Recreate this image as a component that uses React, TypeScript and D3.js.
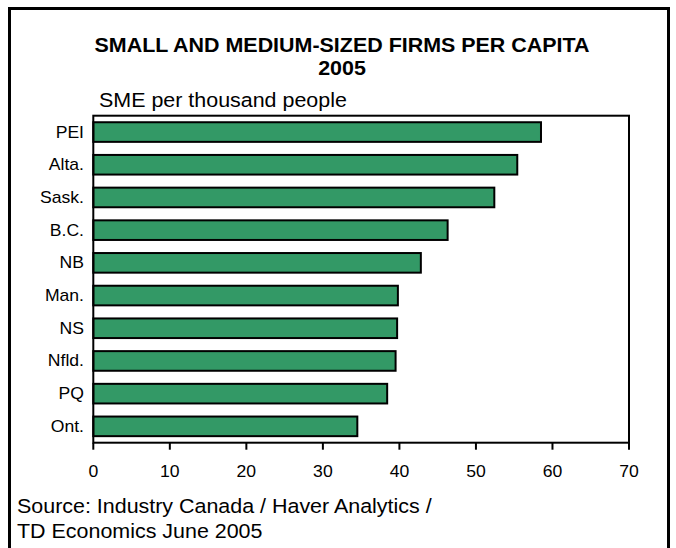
import React from "react";
import * as d3 from "d3";

const categories = ["PEI", "Alta.", "Sask.", "B.C.", "NB", "Man.", "NS", "Nfld.", "PQ", "Ont."];
const values = [58.5, 55.4, 52.4, 46.3, 42.8, 39.8, 39.7, 39.5, 38.4, 34.5];
const xTicks = [0, 10, 20, 30, 40, 50, 60, 70];
const titleLines = ["SMALL AND MEDIUM-SIZED FIRMS PER CAPITA", "2005"];
const unitLabel = "SME per thousand people";
const sourceLines = ["Source: Industry Canada / Haver Analytics /", "TD Economics June 2005"];

const W = 676;
const H = 548;
const plot = { left: 93.3, right: 629, top: 115.7, bottom: 442.7 };
const SX = 1.1;
const FONT = "'Liberation Sans', Arial, sans-serif";

function T({ x, y, anchor = "start", size = 14, weight = "normal", children }: any) {
  return (
    <text
      transform={`translate(${x},${y}) scale(${SX},1)`}
      textAnchor={anchor}
      fontSize={size}
      fontWeight={weight}
      fontFamily={FONT}
      fill="#000"
    >
      {children}
    </text>
  );
}

export default function App() {
  const x = d3.scaleLinear().domain([0, 70]).range([plot.left, plot.right]);
  const y = d3
    .scaleBand<string>()
    .domain(categories)
    .range([plot.top, plot.bottom])
    .paddingInner(0.4)
    .paddingOuter(0.2);

  return (
    <svg
      width={W}
      height={H}
      style={{ position: "absolute", left: 0, top: 0, background: "#fff" }}
    >
      <rect x={0} y={0} width={W} height={H} fill="#fff" />
      {/* outer frame */}
      <rect x={9.5} y={8.5} width={659} height={560} fill="none" stroke="#000" strokeWidth={3} />

      {/* titles */}
      <T x={342} y={52} anchor="middle" size={19.5} weight="bold">{titleLines[0]}</T>
      <T x={342} y={75} anchor="middle" size={19.5} weight="bold">{titleLines[1]}</T>
      <T x={99} y={107} size={19.5}>{unitLabel}</T>

      {/* bars */}
      {categories.map((c, i) => (
        <rect
          key={c}
          x={x(0)}
          y={y(c)!}
          width={x(values[i]) - x(0)}
          height={y.bandwidth()}
          fill="#339966"
          stroke="#000"
          strokeWidth={2}
        />
      ))}

      {/* plot frame */}
      <rect
        x={plot.left}
        y={plot.top}
        width={plot.right - plot.left}
        height={plot.bottom - plot.top}
        fill="none"
        stroke="#000"
        strokeWidth={2}
      />

      {/* category labels */}
      {categories.map((c) => (
        <T key={c} x={84} y={y(c)! + y.bandwidth() / 2 + 5.5} anchor="end" size={16}>
          {c}
        </T>
      ))}

      {/* x ticks */}
      {xTicks.map((t) => (
        <g key={t}>
          <line x1={x(t)} x2={x(t)} y1={plot.bottom} y2={plot.bottom + 7} stroke="#000" strokeWidth={2} />
          <T x={x(t)} y={477} anchor="middle" size={16}>{t}</T>
        </g>
      ))}

      {/* source */}
      <T x={17} y={513} size={19.5}>{sourceLines[0]}</T>
      <T x={17} y={538} size={19.5}>{sourceLines[1]}</T>
    </svg>
  );
}
